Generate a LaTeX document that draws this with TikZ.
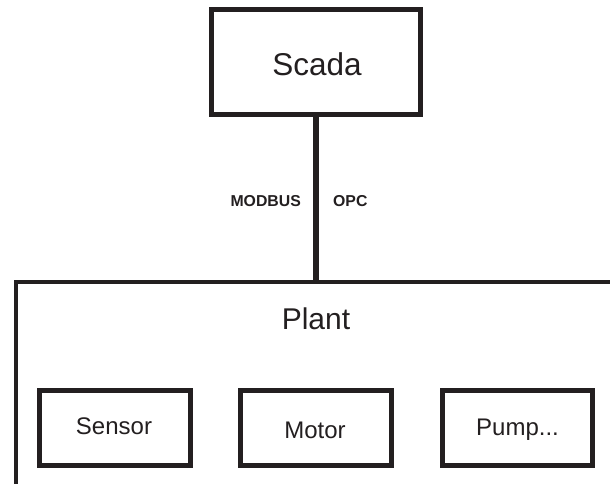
\documentclass[tikz,border=0pt]{standalone}
\usepackage{fontspec}
\setmainfont{Liberation Sans}
\definecolor{ink}{HTML}{231F20}
\begin{document}
\begin{tikzpicture}[x=1pt,y=-1pt,
  box/.style={draw=ink, line width=5pt, minimum width=#1, minimum height=74.5pt, inner sep=0pt, fill=white},
  box/.default=150.5pt,
  lbl/.style={text=ink, anchor=base, inner sep=0pt, font=\fontsize{24}{24}\selectfont},
  proto/.style={text=ink, inner sep=0pt, font=\bfseries\fontsize{15.8}{16}\selectfont}]
\clip (0,0) rectangle (610,483);
\fill[white] (0,0) rectangle (610,483);
% Plant frame
\node[draw=ink, line width=3.5pt, minimum width=700pt, minimum height=300pt, anchor=north west, inner sep=0pt] (plant) at (14,280) {};
% Scada
\node[draw=ink, line width=4.8pt, minimum width=209.5pt, minimum height=105pt, inner sep=0pt, fill=white] (scada) at (316,62) {};
\node[lbl, font=\fontsize{31.5}{32}\selectfont] (scadat) at (317,75) {Scada};
% connector
\draw[ink, line width=5.5pt] (scada.south) -- (scada.south |- plant.north);
\node[proto, anchor=base east] (modbus) at (301,206.7) {MODBUS};
\node[proto, anchor=base west] (opc) at (333,206.7) {OPC};
% Plant title
\node[lbl, font=\fontsize{30}{30}\selectfont] (plantt) at (316,329.3) {Plant};
% devices
\node[box] (sensor) at (115,428) {};
\node[box] (motor) at (316,428) {};
\node[box] (pump) at (517.5,428) {};
\node[lbl] (sensort) at (114,434.3) {Sensor};
\node[lbl] (motort) at (315,438.3) {Motor};
\node[lbl] (pumpt) at (517.5,435) {Pump...};
\end{tikzpicture}
\end{document}
